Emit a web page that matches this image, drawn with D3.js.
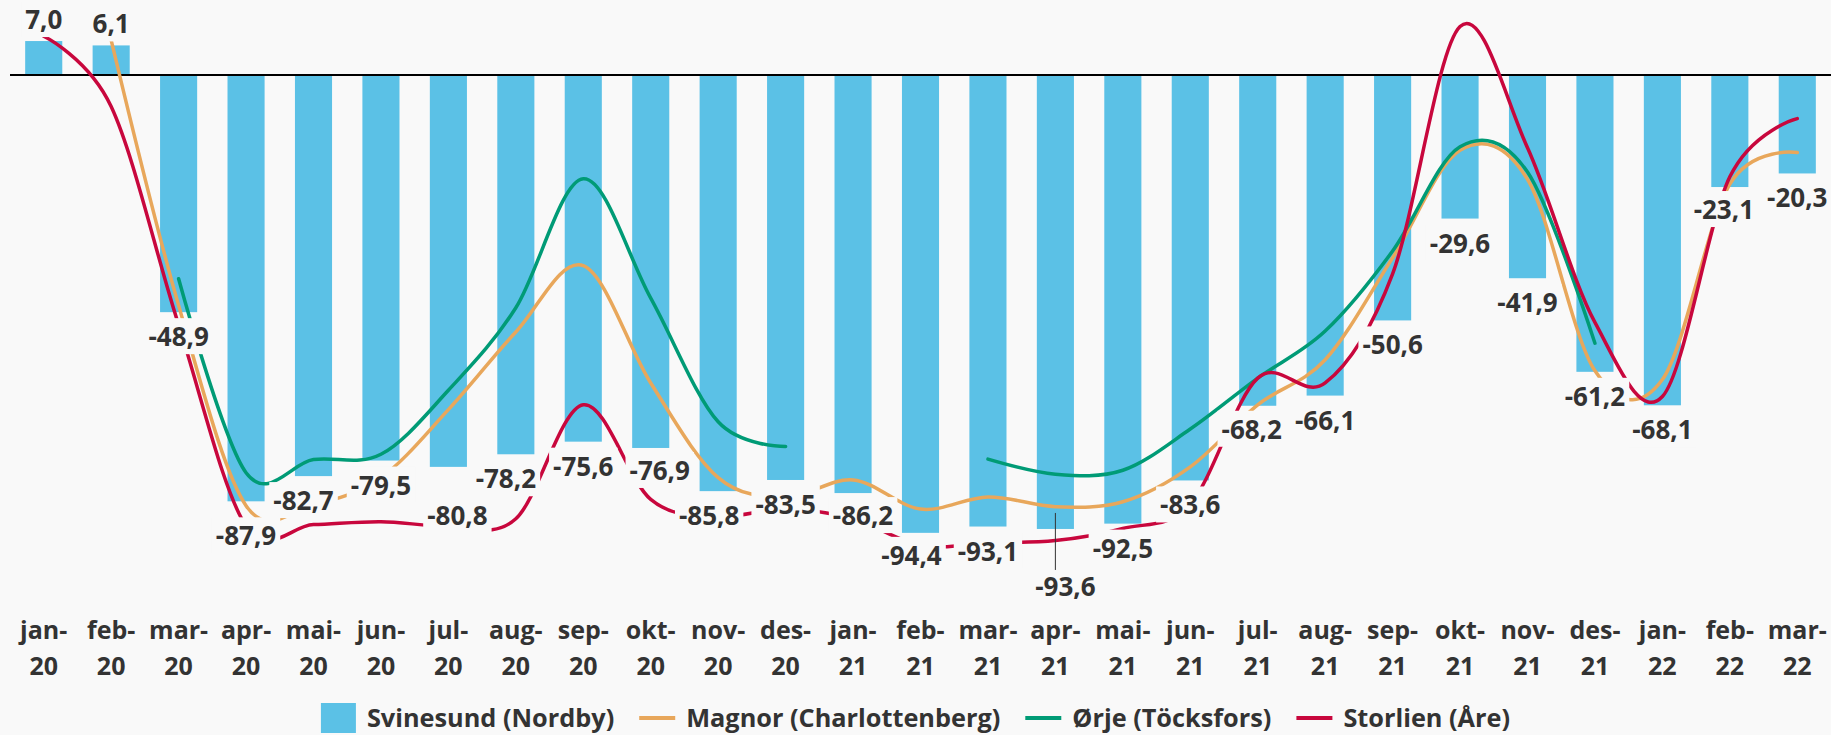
<!DOCTYPE html>
<html>
<head>
<meta charset="utf-8">
<script src="https://cdn.jsdelivr.net/npm/d3@7.9.0/dist/d3.min.js"></script>
<style>
  html, body { margin: 0; padding: 0; background: #f9f9f9; }
  svg { display: block; font-family: "Open Sans", sans-serif; font-weight: 700; }
</style>
</head>
<body>
<svg id="chart"></svg>
<script>
const months = ["jan-20", "feb-20", "mar-20", "apr-20", "mai-20", "jun-20", "jul-20", "aug-20", "sep-20", "okt-20", "nov-20", "des-20",
  "jan-21", "feb-21", "mar-21", "apr-21", "mai-21", "jun-21", "jul-21", "aug-21", "sep-21", "okt-21", "nov-21", "des-21",
  "jan-22", "feb-22", "mar-22"];

// bars
const svinesund = [7.0, 6.1, -48.9, -87.9, -82.7, -79.5, -80.8, -78.2, -75.6, -76.9, -85.8, -83.5,
  -86.2, -94.4, -93.1, -93.6, -92.5, -83.6, -68.2, -66.1, -50.6, -29.6, -41.9, -61.2,
  -68.1, -23.1, -20.3];

// lines (null = no value)
const magnor = [null, 7.2, -47.5, -88.8, -88.5, -83, -69, -53, -39.3, -63.5, -83, -87,
  -83.5, -89.5, -87, -89, -88, -80.8, -68, -58.7, -37.7, -15.5, -21.5, -61,
  -62.8, -22.5, -16];
const orje = [null, null, -42, -82, -79.3, -78.2, -65, -48, -21.4, -46, -71.5, -76.6,
  null, null, -79.2, -82.3, -81.5, -73, -62.5, -52.8, -36.3, -14.8, -20, -55.3,
  null, null, null];
const storlien = [8, -6.5, -51.5, -93, -92.7, -92.1, -93, -91.5, -68, -87.5, -91, -89.5,
  -91.5, -97, -96.5, -96, -93.5, -88.5, -62.5, -63.5, -41, 10, -15, -51,
  -66.3, -21, -9];

const seriesNames = ["Svinesund (Nordby)", "Magnor (Charlottenberg)", "Ørje (Töcksfors)", "Storlien (Åre)"];
const colors = ["#5bc1e6", "#e8a75b", "#009b76", "#c8073d"];

// manual label nudges [dx, dy] like in the original
const labelShift = {3: [0, 10], 4: [-10, 0], 6: [9, 24], 7: [-10, 0], 9: [9, -2], 10: [-9, 0],
  12: [10, -2], 13: [-9, -2], 15: [10, 33], 18: [-6, -1], 25: [-6, -2]};

const width = 1831, height = 735;
const bg = "#f9f9f9";
const textColor = "#333";

const svg = d3.select("#chart").attr("width", width).attr("height", height);
svg.append("rect").attr("width", width).attr("height", height).attr("fill", bg);

const x = d3.scaleBand().domain(months).range([10, 1831]).paddingInner(0.45).paddingOuter(0.225);
const y = d3.scaleLinear().domain([-100, 15]).range([560, 2.25]);
const cx = (m) => x(m) + x.bandwidth() / 2;

// bars
svg.append("g")
  .selectAll("rect")
  .data(months)
  .join("rect")
  .attr("x", (m) => x(m))
  .attr("width", x.bandwidth())
  .attr("y", (m, i) => Math.min(y(svinesund[i]), y(0)))
  .attr("height", (m, i) => Math.abs(y(svinesund[i]) - y(0)))
  .attr("fill", colors[0]);

// zero line
svg.append("line")
  .attr("x1", x.range()[0]).attr("x2", x.range()[1])
  .attr("y1", y(0)).attr("y2", y(0))
  .attr("stroke", "#000").attr("stroke-width", 2);

// smoothed lines
const line = d3.line()
  .defined((d) => d.v != null)
  .x((d) => cx(d.m))
  .y((d) => y(d.v))
  .curve(d3.curveCatmullRom.alpha(0));

[magnor, orje, storlien].forEach((s, k) => {
  svg.append("path")
    .datum(months.map((m, i) => ({ m, v: s[i] })))
    .attr("d", line)
    .attr("fill", "none")
    .attr("stroke", colors[k + 1])
    .attr("stroke-width", 3.5)
    .attr("stroke-linecap", "round");
});

// data labels with background boxes
const fmt = (v) => v.toFixed(1).replace(".", ",");
const labels = svg.append("g");
months.forEach((m, i) => {
  const v = svinesund[i];
  const [dx, dy] = labelShift[i] || [0, 0];
  const centerY = y(v) + (v < 0 ? 26 : -20) + dy;
  const g = labels.append("g");
  const t = g.append("text")
    .attr("x", cx(m) + dx)
    .attr("y", centerY + 8)
    .attr("text-anchor", "middle")
    .attr("font-size", 26)
    .attr("fill", textColor)
    .text(fmt(v));
  const bb = t.node().getBBox();
  g.insert("rect", "text")
    .attr("x", bb.x - 4).attr("y", bb.y)
    .attr("width", bb.width + 8).attr("height", bb.height)
    .attr("fill", bg);
  if (i === 15) {
    svg.append("line")
      .attr("x1", cx(m)).attr("x2", cx(m))
      .attr("y1", y(v) - 16).attr("y2", bb.y + 2)
      .attr("stroke", "#333").attr("stroke-width", 1);
  }
});

// category axis, two lines per tick
const ticks = svg.append("g").attr("font-size", 25).attr("fill", textColor).attr("text-anchor", "middle");
months.forEach((m) => {
  const [mon, yr] = m.split("-");
  const t = ticks.append("text").attr("x", cx(m));
  t.append("tspan").attr("x", cx(m)).attr("y", 639).text(mon + "-");
  t.append("tspan").attr("x", cx(m)).attr("y", 675).text(yr);
});

// legend
const legend = svg.append("g").attr("font-size", 25.3).attr("fill", textColor);
let lx = 0;
seriesNames.forEach((name, k) => {
  if (k === 0) {
    legend.append("rect").attr("x", lx).attr("y", 703).attr("width", 35).attr("height", 30).attr("fill", colors[k]);
    lx += 35;
  } else {
    legend.append("line").attr("x1", lx).attr("x2", lx + 36).attr("y1", 718).attr("y2", 718)
      .attr("stroke", colors[k]).attr("stroke-width", 4);
    lx += 36;
  }
  lx += 11;
  const t = legend.append("text").attr("x", lx).attr("y", 727).text(name);
  lx += t.node().getComputedTextLength() + 25;
});
lx -= 25;
legend.attr("transform", `translate(${(width - lx) / 2},0)`);
</script>
</body>
</html>
